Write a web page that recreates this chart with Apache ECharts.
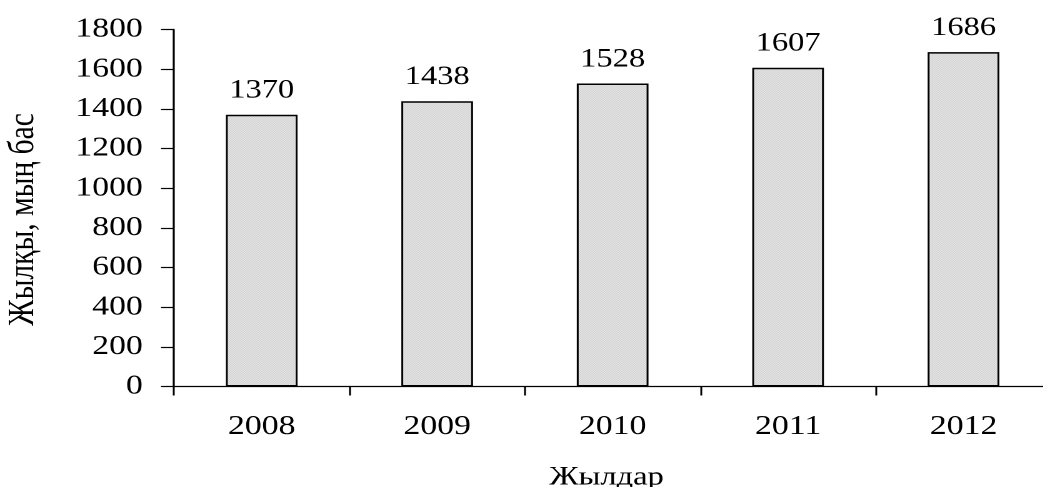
<!DOCTYPE html>
<html><head><meta charset="utf-8">
<script src="https://cdn.jsdelivr.net/npm/echarts@6/dist/echarts.min.js"></script>
<style>
html,body{margin:0;padding:0;overflow:hidden;background:#fff;width:1043px;height:487px;}
#wrap{position:absolute;left:0;top:0;width:841px;height:487px;transform:scaleX(1.25);transform-origin:0 0;}
</style></head><body>
<div id="wrap"></div>
<script>
const SX = 1.25; // horizontal stretch of the whole picture
const years = ['2008', '2009', '2010', '2011', '2012'];
const horses = [1370, 1438, 1528, 1607, 1686];
const yMin = 0, yMax = 1800, yStep = 200;
const xTitle = 'Жылдар';
const yTitle = 'Жылқы, мың бас';

const pc = document.createElement('canvas');
pc.width = 4; pc.height = 4;
const g = pc.getContext('2d');
g.fillStyle = '#f6f6f6'; g.fillRect(0, 0, 4, 4);
g.fillStyle = '#c2c2c2';
for (let y = 0; y < 4; y++) for (let x = 0; x < 4; x++) if ((x + y) % 2 === 0) g.fillRect(x, y, 1, 1);

const chart = echarts.init(document.getElementById('wrap'), null, {renderer: 'canvas', devicePixelRatio: 2});
const serif = 'Liberation Serif';
chart.setOption({
  animation: false,
  backgroundColor: '#fff',
  grid: {left: 174 / SX, right: 0, top: 29.5, bottom: 100.5, containLabel: false, outerBoundsMode: 'none'},
  xAxis: {
    type: 'category', data: years, boundaryGap: true,
    axisLine: {show: true, lineStyle: {color: '#000', width: 1.2}},
    axisTick: {show: true, alignWithLabel: false, length: 9, lineStyle: {color: '#000', width: 1.5}},
    axisLabel: {color: '#000', fontFamily: serif, fontSize: 27, margin: 27},
    splitLine: {show: false},
    name: xTitle, nameLocation: 'middle', nameGap: 78,
    nameTextStyle: {color: '#000', fontFamily: serif, fontSize: 26, padding: [0, 9.6, 0, 0]}
  },
  yAxis: {
    type: 'value', min: yMin, max: yMax, interval: yStep,
    axisLine: {show: true, lineStyle: {color: '#000', width: 1.6}},
    axisTick: {show: true, length: 10.4, lineStyle: {color: '#000', width: 1.2}},
    axisLabel: {color: '#000', fontFamily: serif, fontSize: 27, margin: 25, formatter: v => String(v)},
    splitLine: {show: false}
  },
  graphic: [{
    type: 'text', x: 23.5 / SX, y: 219.5, rotation: Math.PI / 2,
    style: {text: yTitle, fontSize: 29.5, fontFamily: 'Liberation Serif', fill: '#000', textAlign: 'center', textVerticalAlign: 'middle'}
  }],
  series: [{
    type: 'bar', data: horses, barWidth: 71.7 / SX,
    itemStyle: {color: {image: pc, repeat: 'repeat'}, borderColor: '#000', borderWidth: 1.5},
    label: {show: true, position: 'top', distance: 11, color: '#000', fontFamily: serif, fontSize: 26}
  }]
});
</script>
</body></html>
